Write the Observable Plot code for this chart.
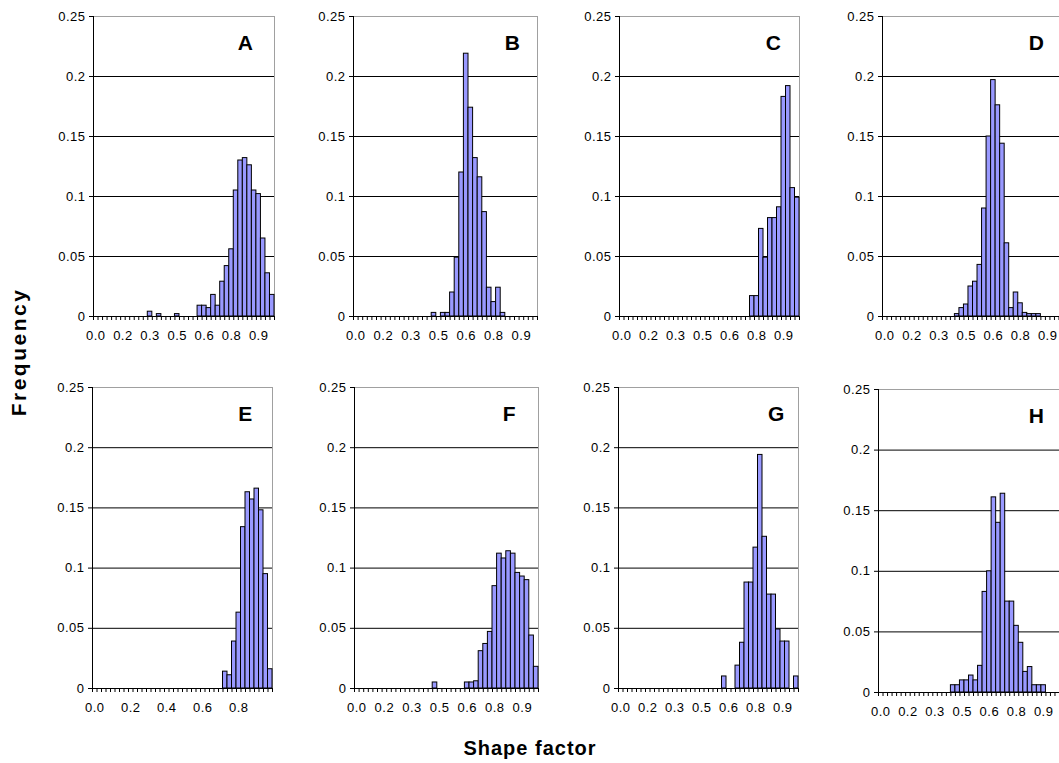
<!DOCTYPE html>
<html><head><meta charset="utf-8">
<script src="https://cdn.jsdelivr.net/npm/d3@7"></script>
<script src="https://cdn.jsdelivr.net/npm/@observablehq/plot@0.6"></script>
<style>
html,body{margin:0;padding:0;background:#fff;overflow:hidden;}
#chart{position:relative;width:1059px;height:763px;overflow:hidden;background:#fff;font-family:"Liberation Sans",Arial,sans-serif;}
.panel{position:absolute;}
.panel svg{max-width:none !important;}
.panel svg text{letter-spacing:0.5px;}
.title{position:absolute;font-weight:bold;font-size:20px;letter-spacing:1px;color:#000;white-space:nowrap;}
#ytitle{font-size:21px;letter-spacing:2.5px;}
</style></head><body><div id="chart"></div>
<script>
// Category bins (shape factor, bin width 0.025)
const bins = [0, 0.025, 0.05, 0.075, 0.1, 0.125, 0.15, 0.175, 0.2, 0.225,
  0.25, 0.275, 0.3, 0.325, 0.35, 0.375, 0.4, 0.425, 0.45, 0.475,
  0.5, 0.525, 0.55, 0.575, 0.6, 0.625, 0.65, 0.675, 0.7, 0.725,
  0.75, 0.775, 0.8, 0.825, 0.85, 0.875, 0.9, 0.925, 0.95, 0.975];
const binWidth = 0.025;

// Frequencies per panel
const freqA = [0,0,0,0,0,0,0,0,0,0, 0,0,0.004,0,0.002,0,0,0,0.002,0,
  0,0,0,0.009,0.009,0.007,0.018,0.009,0.029,0.042, 0.056,0.105,0.130,0.132,0.126,0.105,0.102,0.065,0.036,0.018];
const freqB = [0,0,0,0,0,0,0,0,0,0, 0,0,0,0,0,0,0,0.003,0,0.003,
  0.003,0.020,0.049,0.120,0.219,0.174,0.132,0.116,0.087,0.024, 0.012,0.024,0.003,0,0,0,0,0,0,0];
const freqC = [0,0,0,0,0,0,0,0,0,0, 0,0,0,0,0,0,0,0,0,0,
  0,0,0,0,0,0,0,0,0,0.017, 0.017,0.073,0.049,0.082,0.082,0.091,0.183,0.192,0.107,0.099];
const freqD = [0,0,0,0,0,0,0,0,0,0, 0,0,0,0,0,0,0.002,0.007,0.010,0.025,
  0.029,0.043,0.090,0.150,0.197,0.176,0.144,0.061,0.007,0.020, 0.011,0.003,0.002,0.002,0.002,0,0,0,0,0];
const freqE = [0,0,0,0,0,0,0,0,0,0, 0,0,0,0,0,0,0,0,0,0,
  0,0,0,0,0,0,0,0,0,0.014, 0.011,0.039,0.063,0.134,0.163,0.157,0.166,0.148,0.095,0.016];
const freqF = [0,0,0,0,0,0,0,0,0,0, 0,0,0,0,0,0,0,0.005,0,0,
  0,0,0,0,0.005,0.005,0.006,0.031,0.037,0.047, 0.085,0.112,0.108,0.114,0.112,0.096,0.093,0.090,0.044,0.018];
const freqG = [0,0,0,0,0,0,0,0,0,0, 0,0,0,0,0,0,0,0,0,0,
  0,0,0,0.010,0,0,0.019,0.038,0.088,0.088, 0.117,0.194,0.126,0.078,0.078,0.049,0.039,0.039,0,0.010];
const freqH = [0,0,0,0,0,0,0,0,0,0, 0,0,0,0,0,0,0.006,0.006,0.010,0.010,
  0.014,0.010,0.022,0.083,0.100,0.161,0.140,0.164,0.075,0.075, 0.055,0.041,0.017,0.021,0.006,0.006,0.006,0,0,0];

// Tick labels
const yTicks = [0, 0.05, 0.1, 0.15, 0.2, 0.25];
const yTickLabels = ["0", "0.05", "0.1", "0.15", "0.2", "0.25"];
const gridValues = [0.05, 0.1, 0.15, 0.2];
const xLabelsStep6 = ["0.0", "0.2", "0.3", "0.5", "0.6", "0.8", "0.9"];
const xLabelsStep8 = ["0.0", "0.2", "0.4", "0.6", "0.8"];
const panelLetters = ["A", "B", "C", "D", "E", "F", "G", "H"];
const panelFreqs = [freqA, freqB, freqC, freqD, freqE, freqF, freqG, freqH];

// Layout (plot-area boxes in page pixels)
const boxes = [
  {x: 93, y: 16, w: 181, h: 300, lx: 152, labels: xLabelsStep6, step: 6},
  {x: 353, y: 16, w: 184, h: 300, lx: 159, labels: xLabelsStep6, step: 6},
  {x: 619, y: 16, w: 180, h: 300, lx: 154, labels: xLabelsStep6, step: 6},
  {x: 882, y: 16, w: 181, h: 300, lx: 154, labels: xLabelsStep6, step: 6},
  {x: 92, y: 387, w: 180, h: 301, lx: 153, labels: xLabelsStep8, step: 8},
  {x: 354, y: 387, w: 184, h: 301, lx: 155, labels: xLabelsStep6, step: 6},
  {x: 618, y: 387, w: 180, h: 301, lx: 158, labels: xLabelsStep6, step: 6},
  {x: 878, y: 389, w: 181, h: 303, lx: 158, labels: xLabelsStep6, step: 6}
];
const M = {l: 46, r: 8, t: 8, b: 34};
const FONT = '"Liberation Sans", Arial, sans-serif';
const chart = document.getElementById("chart");
const edges = bins.concat([1]);

panelFreqs.forEach((vals, p) => {
  const box = boxes[p];
  const rows = bins.map((b, i) => ({x1: b, x2: b + binWidth, f: vals[i]})).filter(d => d.f > 0);
  const labelRows = box.labels.map((t, k) => ({x: bins[k * box.step] + binWidth / 2, t}));
  const W = box.w + M.l + M.r, H = box.h + M.t + M.b;
  const svg = Plot.plot({
    width: W,
    height: H,
    marginLeft: M.l, marginRight: M.r, marginTop: M.t, marginBottom: M.b,
    style: {fontFamily: FONT, fontSize: "13px", background: "transparent", color: "#000", overflow: "visible", maxWidth: "none"},
    x: {domain: [0, 1], axis: null},
    y: {domain: [0, 0.25], axis: null},
    marks: [
      Plot.frame({stroke: "#a0a0a0", strokeWidth: 1}),
      Plot.ruleY(gridValues, {stroke: "#000", strokeWidth: 1}),
      Plot.rectY(rows, {x1: "x1", x2: "x2", y: "f", fill: "#9999ff", stroke: "#000", strokeWidth: 1}),
      Plot.ruleX([0], {stroke: "#000", strokeWidth: 1}),
      Plot.ruleY([0], {stroke: "#000", strokeWidth: 1}),
      Plot.axisY({ticks: yTicks, tickFormat: d => yTickLabels[yTicks.indexOf(d)], tickSize: 4, tickPadding: 4, label: null, fontSize: 13}),
      Plot.axisX({ticks: edges, tickFormat: () => "", tickSize: 4, label: null}),
      Plot.text(labelRows, {x: "x", text: "t", frameAnchor: "bottom", lineAnchor: "middle", dy: 19, fontSize: 13}),
      Plot.text([panelLetters[p]], {text: d => d, frameAnchor: "top-left", lineAnchor: "middle", dx: box.lx, dy: 27, fontSize: 21, fontWeight: "bold", textAnchor: "middle"})
    ]
  });
  svg.style.maxWidth = "none";
  const div = document.createElement("div");
  div.className = "panel";
  div.style.left = (box.x - M.l) + "px";
  div.style.top = (box.y - M.t) + "px";
  div.style.width = W + "px";
  div.style.height = H + "px";
  div.appendChild(svg);
  chart.appendChild(div);
});

const yTitle = document.createElement("div");
yTitle.className = "title";
yTitle.id = "ytitle";
yTitle.textContent = "Frequency";
yTitle.style.left = "19px";
yTitle.style.top = "352px";
yTitle.style.transform = "translate(-50%,-50%) rotate(-90deg)";
chart.appendChild(yTitle);

const xTitle = document.createElement("div");
xTitle.className = "title";
xTitle.textContent = "Shape factor";
xTitle.style.left = "530px";
xTitle.style.top = "748px";
xTitle.style.transform = "translate(-50%,-50%)";
chart.appendChild(xTitle);
</script></body></html>
